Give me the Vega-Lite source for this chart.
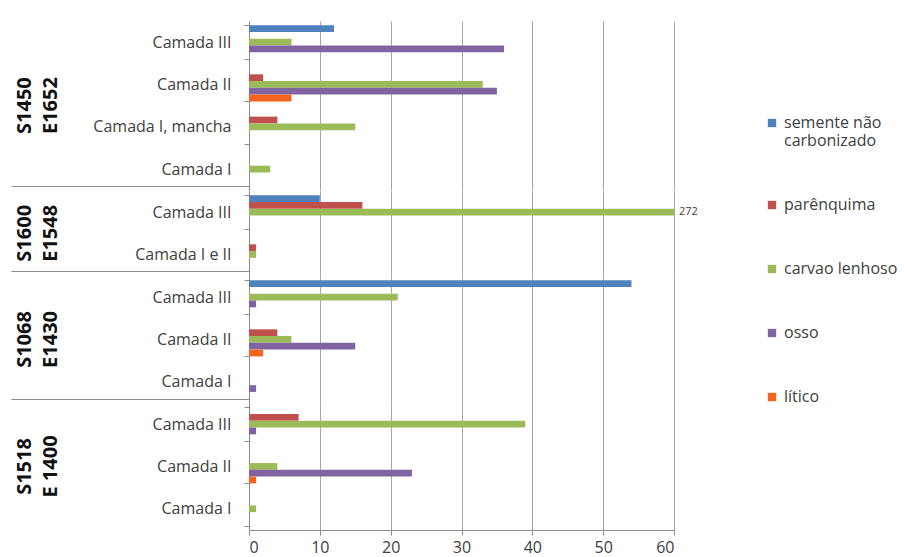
{
  "$schema": "https://vega.github.io/schema/vega-lite/v6.json",
  "padding": {"left": 10, "top": 13, "right": 5, "bottom": 5},
  "background": "white",
  "data": {"values": [
    {"site": "S1450|E1652", "key": "S1450|E1652/Camada III", "series": "semente não carbonizado", "value": 12},
    {"site": "S1450|E1652", "key": "S1450|E1652/Camada III", "series": "carvao lenhoso", "value": 6},
    {"site": "S1450|E1652", "key": "S1450|E1652/Camada III", "series": "osso", "value": 36},
    {"site": "S1450|E1652", "key": "S1450|E1652/Camada II", "series": "parênquima", "value": 2},
    {"site": "S1450|E1652", "key": "S1450|E1652/Camada II", "series": "carvao lenhoso", "value": 33},
    {"site": "S1450|E1652", "key": "S1450|E1652/Camada II", "series": "osso", "value": 35},
    {"site": "S1450|E1652", "key": "S1450|E1652/Camada II", "series": "lítico", "value": 6},
    {"site": "S1450|E1652", "key": "S1450|E1652/Camada I, mancha", "series": "parênquima", "value": 4},
    {"site": "S1450|E1652", "key": "S1450|E1652/Camada I, mancha", "series": "carvao lenhoso", "value": 15},
    {"site": "S1450|E1652", "key": "S1450|E1652/Camada I", "series": "carvao lenhoso", "value": 3},
    {"site": "S1600|E1548", "key": "S1600|E1548/Camada III", "series": "semente não carbonizado", "value": 10},
    {"site": "S1600|E1548", "key": "S1600|E1548/Camada III", "series": "parênquima", "value": 16},
    {"site": "S1600|E1548", "key": "S1600|E1548/Camada III", "series": "carvao lenhoso", "value": 272},
    {"site": "S1600|E1548", "key": "S1600|E1548/Camada I e II", "series": "parênquima", "value": 1},
    {"site": "S1600|E1548", "key": "S1600|E1548/Camada I e II", "series": "carvao lenhoso", "value": 1},
    {"site": "S1068|E1430", "key": "S1068|E1430/Camada III", "series": "semente não carbonizado", "value": 54},
    {"site": "S1068|E1430", "key": "S1068|E1430/Camada III", "series": "carvao lenhoso", "value": 21},
    {"site": "S1068|E1430", "key": "S1068|E1430/Camada III", "series": "osso", "value": 1},
    {"site": "S1068|E1430", "key": "S1068|E1430/Camada II", "series": "parênquima", "value": 4},
    {"site": "S1068|E1430", "key": "S1068|E1430/Camada II", "series": "carvao lenhoso", "value": 6},
    {"site": "S1068|E1430", "key": "S1068|E1430/Camada II", "series": "osso", "value": 15},
    {"site": "S1068|E1430", "key": "S1068|E1430/Camada II", "series": "lítico", "value": 2},
    {"site": "S1068|E1430", "key": "S1068|E1430/Camada I", "series": "osso", "value": 1},
    {"site": "S1518|E 1400", "key": "S1518|E 1400/Camada III", "series": "parênquima", "value": 7},
    {"site": "S1518|E 1400", "key": "S1518|E 1400/Camada III", "series": "carvao lenhoso", "value": 39},
    {"site": "S1518|E 1400", "key": "S1518|E 1400/Camada III", "series": "osso", "value": 1},
    {"site": "S1518|E 1400", "key": "S1518|E 1400/Camada II", "series": "carvao lenhoso", "value": 4},
    {"site": "S1518|E 1400", "key": "S1518|E 1400/Camada II", "series": "osso", "value": 23},
    {"site": "S1518|E 1400", "key": "S1518|E 1400/Camada II", "series": "lítico", "value": 1},
    {"site": "S1518|E 1400", "key": "S1518|E 1400/Camada I", "series": "carvao lenhoso", "value": 1}
  ]},
  "facet": {
    "row": {
      "field": "site",
      "type": "nominal",
      "title": null,
      "sort": ["S1450|E1652", "S1600|E1548", "S1068|E1430", "S1518|E 1400"],
      "header": {
        "labelExpr": "split(datum.label, '|')",
        "labelFont": "Open Sans",
        "labelFontWeight": "bold",
        "labelFontSize": 20,
        "labelColor": "#111111",
        "labelAngle": -90,
        "labelLineHeight": 26,
        "labelPadding": 178
      }
    }
  },
  "spacing": 0,
  "bounds": "flush",
  "resolve": {"scale": {"y": "independent"}},
  "spec": {
    "width": 425,
    "height": {"step": 6.77},
    "encoding": {
      "y": {
        "field": "key",
        "type": "nominal",
        "title": null,
        "sort": [
          "S1450|E1652/Camada III", "S1450|E1652/Camada II", "S1450|E1652/Camada I, mancha", "S1450|E1652/Camada I",
          "S1600|E1548/Camada III", "S1600|E1548/Camada I e II",
          "S1068|E1430/Camada III", "S1068|E1430/Camada II", "S1068|E1430/Camada I",
          "S1518|E 1400/Camada III", "S1518|E 1400/Camada II", "S1518|E 1400/Camada I"
        ],
        "scale": {"paddingInner": 0.2, "paddingOuter": 0.1},
        "axis": {
          "labelExpr": "split(datum.label, '/')[1]",
          "tickBand": "extent",
          "tickSize": {"condition": {"test": "indexof(['S1450|E1652/Camada I','S1600|E1548/Camada I e II','S1068|E1430/Camada I'], datum.value) >= 0", "value": 238}, "value": 5},
          "labelPadding": {"condition": {"test": "indexof(['S1450|E1652/Camada I','S1600|E1548/Camada I e II','S1068|E1430/Camada I'], datum.value) >= 0", "value": -220}, "value": 13},
          "grid": false
        }
      },
      "yOffset": {
        "field": "series",
        "type": "nominal",
        "scale": {"domain": ["semente não carbonizado", "parênquima", "carvao lenhoso", "osso", "lítico"], "paddingInner": 0, "paddingOuter": 0}
      },
      "x": {
        "field": "value",
        "type": "quantitative",
        "title": null,
        "scale": {"domain": [0, 60], "clamp": true, "nice": false},
        "axis": {"values": [0, 10, 20, 30, 40, 50, 60], "grid": true, "tickSize": 5, "labelPadding": 4}
      }
    },
    "layer": [
      {
        "mark": {"type": "bar"},
        "encoding": {
          "color": {
            "field": "series",
            "type": "nominal",
            "scale": {
              "domain": ["semente não carbonizado", "parênquima", "carvao lenhoso", "osso", "lítico"],
              "range": ["#4F81BD", "#C0504D", "#9BBB59", "#8064A2", "#F5641E"]
            },
            "legend": {
              "title": null,
              "orient": "none",
              "legendX": 515,
              "legendY": 94,
              "symbolType": "square",
              "symbolSize": 70,
              "symbolStrokeWidth": 0,
              "labelExpr": "datum.label == 'semente não carbonizado' ? ['semente não', 'carbonizado'] : datum.label",
              "labelFont": "Open Sans",
              "labelFontSize": 16,
              "labelColor": "#404040",
              "labelLimit": 300,
              "rowPadding": 48,
              "labelOffset": 4
            }
          }
        }
      },
      {
        "transform": [{"filter": "datum.value > 60"}],
        "mark": {"type": "text", "align": "left", "baseline": "middle", "dx": 5, "fontSize": 11, "font": "Open Sans", "color": "#404040"},
        "encoding": {
          "text": {"field": "value", "type": "quantitative"}
        }
      }
    ]
  },
  "config": {
    "view": {"stroke": null},
    "axis": {
      "labelFont": "Open Sans",
      "labelFontSize": 16,
      "labelColor": "#404040",
      "domainColor": "#8c8c8c",
      "tickColor": "#8c8c8c",
      "gridColor": "#a6a6a6",
      "gridWidth": 1
    }
  }
}
